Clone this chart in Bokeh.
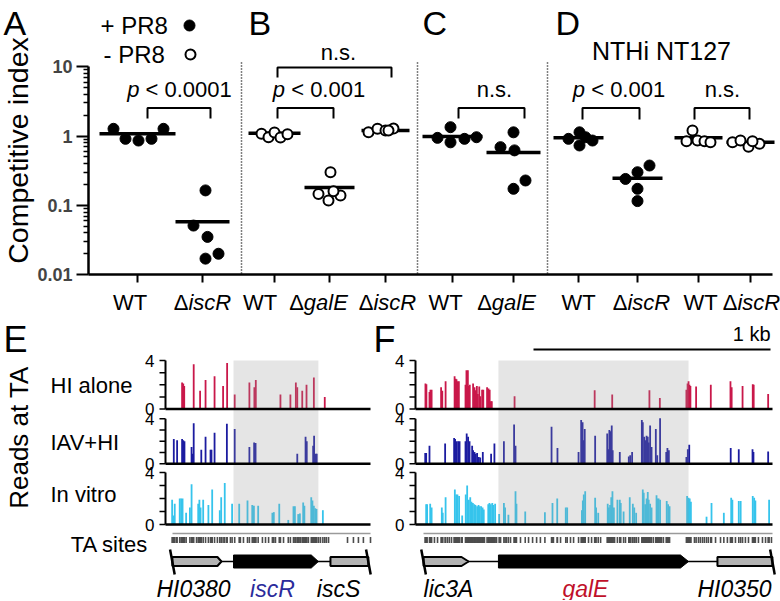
import math
from bokeh.plotting import figure
from bokeh.models import Range1d, FixedTicker, CustomJSTickFormatter
from bokeh.layouts import column, row
from bokeh.embed import file_html
from bokeh.resources import INLINE
from bokeh.core.properties import value

FONT = "Liberation Sans"

# ================= DATA: panels A-D (competitive index) =================
ci_labels = ["WT", "iscR", "WT", "galE", "iscR", "WT", "galE", "WT", "iscR", "WT", "iscR"]
ci_mutant = [False, True, False, True, True, False, True, False, True, False, True]
ci_pr8 = [True, True, False, False, False, True, True, True, True, False, False]
ci_values = [
    [1.27, 0.91, 0.86, 0.91, 1.27],
    [0.164, 0.051, 0.035, 0.017, 0.020],
    [1.08, 0.96, 1.12, 0.95, 1.06],
    [0.30, 0.146, 0.117, 0.138, 0.16],
    [1.13, 1.27, 1.20, 1.28, 1.20],
    [1.34, 0.94, 0.81, 0.91, 0.96],
    [1.13, 0.69, 0.62, 0.173, 0.228],
    [1.13, 0.91, 0.73, 0.86, 0.96],
    [0.375, 0.30, 0.24, 0.173, 0.115],
    [1.20, 0.84, 0.86, 0.84, 0.81],
    [0.81, 0.86, 0.70, 0.77, 0.84],
]
ci_center = [1.08, 0.058, 1.10, 0.18, 1.20, 0.98, 0.58, 0.94, 0.246, 0.94, 0.81]
sig_texts = [("p", "< 0.0001"), ("p", "< 0.001"), ("", "n.s."), ("", "n.s."), ("p", "< 0.001"), ("", "n.s.")]

# ================= DATA: panels E-F (reads at TA sites, log10) =================
track_names = ["HI alone", "IAV+HI", "In vitro"]
# panel E (bp from left end of window)
e_pos = [
    [70, 75, 79, 119, 146, 169, 207, 243, 260, 292, 354, 375, 381, 485, 527, 550, 556, 577, 595, 626, 672],
    [35, 49, 70, 75, 80, 110, 115, 119, 151, 169, 190, 194, 207, 259, 292, 354, 374, 380, 556, 591, 596,
     623, 627, 634, 638],
    [28, 32, 39, 60, 66, 72, 87, 103, 110, 138, 143, 148, 159, 181, 197, 229, 235, 250, 281, 311, 346, 366,
     373, 391, 451, 457, 480, 518, 540, 546, 560, 567, 581, 586, 615, 620, 626, 632, 637, 664],
]
e_reads = [
    [2.2, 2.1, 1.9, 3.7, 1.5, 2.4, 2.7, 1.9, 3.8, 1.2, 2.2, 1.8, 2.4, 1.2, 1.2, 2.2, 1.8, 1.5, 2.0, 2.6, 1.0],
    [2.2, 2.1, 2.2, 2.1, 2.0, 1.5, 0.9, 3.6, 1.25, 2.4, 1.25, 1.25, 2.75, 3.55, 3.1, 1.5, 1.9, 1.85, 0.9,
     2.4, 2.0, 1.6, 2.5, 0.9, 0.9],
    [1.9, 0.7, 1.6, 2.0, 2.0, 2.0, 0.9, 1.3, 3.1, 1.6, 1.9, 1.3, 1.9, 1.5, 2.7, 1.1, 2.1, 3.2, 1.6, 1.6,
     1.85, 1.5, 1.45, 1.45, 0.9, 0.95, 1.6, 0.35, 1.4, 1.4, 0.8, 0.85, 1.7, 1.45, 2.1, 1.85, 1.45, 1.25,
     1.2, 1.1],
]
e_ta_extra = [46, 131, 219, 274, 316, 329, 409, 422, 435, 464, 498, 570, 603, 646, 654, 679, 688, 768,
              793, 814, 835, 865]
e_genes = ["HI0380", "iscR", "iscS"]
e_gene_start = [29, 287, 696]
e_gene_end = [236, 645, 856]
e_gene_label_x = [118, 451, 730]

# panel F
f_pos = [
    [42, 46, 59, 63, 68, 108, 113, 127, 165, 169, 173, 177, 183, 211, 215, 221, 225, 229, 243, 249, 253,
     259, 263, 269, 273, 281, 286, 302, 308, 313, 318, 322, 418, 756, 830, 987, 1031, 1143, 1148, 1152,
     1156, 1160, 1184, 1246, 1329, 1334, 1380, 1423, 1427, 1488],
    [41, 45, 59, 125, 163, 167, 173, 180, 186, 211, 216, 222, 228, 239, 243, 249, 254, 260, 267, 273, 284,
     319, 333, 373, 416, 422, 574, 599, 688, 699, 705, 709, 714, 758, 809, 813, 818, 824, 828, 832, 862,
     900, 906, 914, 955, 959, 965, 970, 975, 980, 984, 990, 996, 1014, 1020, 1032, 1058, 1063, 1069, 1143,
     1149, 1155, 1330, 1364, 1422, 1426, 1488],
    [45, 49, 62, 68, 111, 115, 127, 166, 172, 177, 184, 197, 212, 218, 225, 231, 236, 242, 248, 253, 260,
     266, 271, 277, 283, 288, 307, 312, 318, 324, 329, 336, 353, 373, 378, 392, 422, 426, 463, 546, 578,
     598, 634, 640, 702, 706, 710, 716, 758, 762, 771, 811, 816, 821, 826, 831, 837, 852, 862, 866, 878,
     904, 917, 923, 931, 959, 963, 969, 975, 980, 984, 990, 996, 1017, 1021, 1026, 1032, 1060, 1066, 1072,
     1146, 1152, 1157, 1162, 1228, 1249, 1301, 1332, 1337, 1364, 1372, 1423, 1429, 1434, 1492],
]
f_reads = [
    [2.1, 2.05, 1.4, 1.6, 1.6, 1.8, 1.5, 2.3, 2.7, 2.5, 2.45, 2.3, 2.3, 2.0, 3.2, 3.2, 1.9, 2.0, 2.1, 1.8,
     1.55, 1.9, 1.25, 1.85, 1.05, 1.6, 1.6, 1.8, 1.7, 1.6, 0.65, 0.65, 1.05, 1.55, 1.2, 1.55, 0.9, 1.6,
     2.1, 2.3, 2.0, 1.9, 1.85, 2.0, 2.3, 1.8, 1.9, 2.05, 2.0, 1.25],
    [0.95, 0.95, 1.6, 1.8, 2.3, 2.2, 2.0, 2.0, 2.0, 2.0, 2.7, 2.4, 2.0, 1.6, 1.2, 1.05, 0.9, 0.95, 0.6,
     0.55, 1.05, 0.9, 1.8, 2.0, 3.5, 1.6, 3.3, 1.4, 1.05, 3.9, 3.7, 2.1, 3.1, 2.5, 2.7, 1.3, 3.0, 2.9, 3.4,
     1.2, 1.05, 0.65, 0.75, 1.05, 3.9, 3.7, 2.4, 2.1, 2.5, 2.4, 1.9, 3.4, 1.5, 3.1, 0.75, 4.05, 1.05, 1.4,
     1.2, 0.6, 1.3, 1.7, 1.4, 1.3, 1.3, 1.05, 1.1],
    [1.55, 1.55, 1.6, 1.3, 1.3, 0.9, 2.1, 2.7, 2.3, 2.3, 2.2, 0.7, 2.3, 3.0, 1.9, 2.1, 1.75, 1.65, 1.55,
     1.5, 1.4, 1.5, 1.4, 1.4, 1.3, 1.15, 1.55, 1.65, 1.55, 1.65, 1.5, 1.6, 0.8, 1.65, 1.3, 0.75, 2.55, 1.6,
     1.0, 0.95, 1.65, 2.0, 1.3, 1.3, 1.1, 1.85, 2.3, 2.55, 2.05, 1.3, 0.9, 1.6, 1.3, 1.5, 2.1, 2.55, 1.3,
     1.9, 1.9, 1.65, 1.0, 2.1, 1.6, 1.3, 0.9, 2.7, 2.45, 1.55, 2.0, 2.5, 1.9, 1.6, 1.3, 2.25, 2.0, 2.0,
     1.9, 1.8, 1.55, 1.4, 2.2, 2.05, 2.0, 1.75, 0.6, 1.65, 0.9, 2.05, 1.9, 1.8, 1.8, 2.2, 2.05, 1.85, 1.9],
]
f_ta_extra = [80, 93, 135, 143, 152, 194, 291, 342, 359, 384, 401, 443, 477, 494, 511, 527, 582, 612, 654,
              667, 730, 743, 781, 840, 886, 932, 941, 1004, 1038, 1046, 1177, 1194, 1202, 1211, 1219, 1236,
              1266, 1287, 1316, 1350, 1392, 1405, 1447, 1464, 1477, 1502]
f_genes = ["lic3A", "galE", "HI0350"]
f_gene_start = [34, 350, 1274]
f_gene_end = [224, 1152, 1506]
f_gene_label_x = [139, 717, 1346]

# ================= LAYOUT / STYLE =================
GROUP_X = [137, 202, 274, 329, 385, 452, 513, 578, 637, 698, 750]
LABEL_X = [129.5, 202, 259.5, 318, 387, 445, 506, 578, 641, 700, 751]
POINT_DX = [
    [-24, -12, 1, 14, 26],
    [3, -9, 5, 3, 16],
    [-13, -6, 0, 6, 13],
    [1, -11, -1, 11, 4],
    [-17, -8, 0, 8, 3],
    [-2, -15, -2, 12, 24],
    [0, -13, 1, 0, 12],
    [1, -10, 1, 14, 7],
    [12, 0, -12, 0, 0],
    [-6, -12, -1, 6, 12],
    [-18, -10, -2, 9, 2],
]
LINE_HALF = [38, 27, 26, 25, 24, 30, 27, 25, 25, 24, 24]
SEP_X = [241, 417, 547]
BRACKETS = [(147, 210, 107.5, 118), (277, 333, 107.5, 118), (277, 391, 67, 77),
            (458, 524, 107.5, 118), (582, 639, 107.5, 119), (694, 749, 107.5, 119)]
SIG_POS = [(179, 89), (318.5, 89), (338, 52), (494, 89), (618.5, 89), (722, 89)]

W_EM = {'p': .556, ' ': .278, '<': .584, '0': .556, '.': .278, '1': .556, '\u0394': .668, 'i': .222,
        's': .5, 'c': .5, 'R': .722, 'g': .556, 'a': .556, 'l': .222, 'E': .667, 'n': .556}


def tw(s, size):
    return sum(W_EM.get(ch, .556) for ch in s) * size


PX_PER_DEC = 69.3
Y1_PY = 135.5


def ylog(py):
    return 10 ** ((Y1_PY - py) / PX_PER_DEC)


W = 780
TOP_H = 316
BOT_H = 284


def txt(p, x, y, t, size, align="left", style="normal", color="black", angle=0.0, x_offset=0):
    p.text(x=x, y=y, text=t, text_font=value(FONT), text_font_size=size, text_align=align,
           text_baseline="middle", text_font_style=style, text_color=color, angle=angle,
           x_offset=x_offset)


# ================= TOP FIGURE =================
top = figure(width=W, height=TOP_H, output_backend="svg", toolbar_location=None,
             x_range=Range1d(0, W), y_range=Range1d(ylog(TOP_H), ylog(0)),
             y_axis_type="log", x_axis_location=None,
             min_border_left=0, min_border_right=0, min_border_top=0, min_border_bottom=0)
top.outline_line_color = None
top.grid.visible = False
yax = top.yaxis[0]
yax.fixed_location = 88
yax.ticker = FixedTicker(ticks=[0.01, 0.1, 1, 10],
                         minor_ticks=[m * 10 ** e for e in (-2, -1, 0) for m in range(2, 10)])
yax.bounds = (0.01, 10)
yax.formatter = CustomJSTickFormatter(code="return tick >= 1 ? tick.toFixed(0) : String(Number(tick.toPrecision(1)));")
yax.axis_line_width = 2.5
yax.major_tick_line_width = 2
yax.minor_tick_line_width = 1.5
yax.major_tick_out = 12
yax.major_tick_in = 0
yax.minor_tick_out = 5
yax.minor_tick_in = 0
yax.major_label_text_font = FONT
yax.major_label_text_font_style = "bold"
yax.major_label_text_font_size = "18px"
yax.major_label_standoff = 4

# x axis (drawn at the 0.01 line)
top.segment(x0=[88], y0=[0.01], x1=[772], y1=[0.01], line_width=2.5, line_color="black")
top.segment(x0=GROUP_X, y0=[0.01] * len(GROUP_X), x1=GROUP_X, y1=[ylog(282)] * len(GROUP_X),
            line_width=2, line_color="black")

# x tick labels
wt_x, mut_x, mut_off, mut_lab = [], [], [], []
for lx, lab, mut in zip(LABEL_X, ci_labels, ci_mutant):
    if mut:
        total = tw("\u0394", 22) + tw(lab, 22)
        mut_x.append(lx)
        mut_off.append(-total / 2 + tw("\u0394", 22))
        mut_lab.append(lab)
    else:
        wt_x.append(lx)
LAB_Y = ylog(302)
txt(top, wt_x, [LAB_Y] * len(wt_x), ["WT"] * len(wt_x), "22px", align="center")
txt(top, mut_x, [LAB_Y] * len(mut_x), ["\u0394"] * len(mut_x), "22px", align="right", x_offset=mut_off)
txt(top, mut_x, [LAB_Y] * len(mut_x), mut_lab, "22px", align="left", style="italic", x_offset=mut_off)

# separators
top.segment(x0=SEP_X, y0=[ylog(62)] * 3, x1=SEP_X, y1=[0.01] * 3, line_dash="1 2",
            line_width=1.5, line_color="black")

# center lines
top.segment(x0=[gx - h for gx, h in zip(GROUP_X, LINE_HALF)], y0=ci_center,
            x1=[gx + h for gx, h in zip(GROUP_X, LINE_HALF)], y1=ci_center,
            line_width=3.5, line_color="black")

# points
for gx, dxs, vals, filled in zip(GROUP_X, POINT_DX, ci_values, ci_pr8):
    xs = [gx + d for d in dxs]
    if filled:
        top.scatter(x=xs, y=vals, marker="circle", size=11, fill_color="black", line_color="black")
    else:
        top.scatter(x=xs, y=vals, marker="circle", size=10, fill_color="white", line_color="black",
                    line_width=2)

# brackets and significance
for xl, xr, ty, bt in BRACKETS:
    top.line(x=[xl, xl, xr, xr], y=[ylog(bt), ylog(ty), ylog(ty), ylog(bt)], line_width=2,
             line_color="black")
for (pp, rest), (cx, cy) in zip(sig_texts, SIG_POS):
    if pp:
        total = tw(pp, 22) + tw(" " + rest, 22)
        off = -total / 2 + tw(pp, 22)
        txt(top, [cx], [ylog(cy)], [pp], "22px", align="right", style="italic", x_offset=off)
        txt(top, [cx], [ylog(cy)], [rest], "22px", align="left", x_offset=off + tw(" ", 22))
    else:
        txt(top, [cx], [ylog(cy)], [rest], "22px", align="center")

# legend
txt(top, [100, 103], [ylog(24.6), ylog(53.6)], ["+ PR8", "- PR8"], "24px")
top.scatter(x=[189], y=[ylog(25)], marker="circle", size=11, fill_color="black", line_color="black")
top.scatter(x=[190], y=[ylog(54)], marker="circle", size=10, fill_color="white", line_color="black",
            line_width=2)

# panel letters, title, axis label
txt(top, [3, 248, 422, 555], [ylog(22)] * 4, ["A", "B", "C", "D"], "34px")
txt(top, [661], [ylog(50)], ["NTHi NT127"], "25px", align="center")
txt(top, [17], [ylog(150)], ["Competitive index"], "28.5px", align="center", angle=math.pi / 2)

# ================= BOTTOM FIGURES =================
BP_PER_PX = 1000 / 237
E_ORIG = 165
F_ORIG = 415


def by(py):
    return 524 - py


TRACK_BASE = [by(408.5), by(463.3), by(524)]
TRACK_UNIT = [12.1, 11.25, 13.0]
TRACK_COLORS = ["#c9184a", "#1c1ca0", "#36c4ec"]
GENE_Y = by(561)


def make_panel(width, orig, x_left_px, x_right_px):
    p = figure(width=width, height=BOT_H, output_backend="svg", toolbar_location=None,
               x_range=Range1d((x_left_px - orig) * BP_PER_PX, (x_right_px - orig) * BP_PER_PX),
               y_range=Range1d(by(TOP_H + BOT_H), by(TOP_H)),
               x_axis_location=None, y_axis_location=None,
               min_border_left=0, min_border_right=0, min_border_top=0, min_border_bottom=0)
    p.outline_line_color = None
    p.grid.visible = False
    return p


def draw_panel(p, pos, reads, end_bp, ta_start, ta_extra, genes, gstart, gend, glabel_x,
               target, target_color, heads):
    # bars
    for i in range(3):
        b, u = TRACK_BASE[i], TRACK_UNIT[i]
        p.vbar(x=pos[i], bottom=b, top=[b + v * u for v in reads[i]], width=1.8 * BP_PER_PX,
               fill_color=TRACK_COLORS[i], line_color=None)
    # shaded target gene
    p.quad(left=[gstart[target]], right=[gend[target]], bottom=[TRACK_BASE[2]], top=[by(360)],
           fill_color="#999999", fill_alpha=0.25, line_color=None)
    # track axes
    for i in range(3):
        b, u = TRACK_BASE[i], TRACK_UNIT[i]
        p.segment(x0=[0], y0=[b], x1=[end_bp], y1=[b], line_width=2.5, line_color="black")
        p.segment(x0=[0], y0=[b], x1=[0], y1=[b + 4 * u], line_width=2, line_color="black")
        tk = [b + k * u for k in range(5)]
        p.segment(x0=[0] * 5, y0=tk, x1=[-6 * BP_PER_PX] * 5, y1=tk, line_width=1.5, line_color="black")
        txt(p, [-11 * BP_PER_PX] * 2, [b, b + 4 * u], ["0", "4"], "17px", align="right")
    # TA sites
    ta = sorted(set(pos[0]) | set(pos[1]) | set(pos[2]) | set(ta_extra))
    p.segment(x0=[ta_start], y0=[by(533)], x1=[end_bp], y1=[by(533)], line_width=1.5,
              line_color="#9a9a9a")
    p.vbar(x=ta, bottom=by(542.5), top=by(536.5), width=1.6 * BP_PER_PX, fill_color="#4d4d4d",
           line_color=None)
    # genes
    p.segment(x0=[gstart[0]], y0=[GENE_Y], x1=[gend[-1]], y1=[GENE_Y], line_width=1.5, line_color="black")
    for k in range(3):
        s, e, hd = gstart[k], gend[k], heads[k]
        half = 6.5 if k == target else 4.5
        xs = [s, e - hd, e, e - hd, s]
        ys = [GENE_Y + half, GENE_Y + half, GENE_Y, GENE_Y - half, GENE_Y - half]
        if k == target:
            p.patch(x=xs, y=ys, fill_color="black", line_color="black", line_width=1)
        else:
            p.patch(x=xs, y=ys, fill_color="#b3b3b3", line_color="black", line_width=2)
    cuts = [gstart[0], gend[-1]]
    d = 2.3 * BP_PER_PX
    p.segment(x0=[c - d for c in cuts], y0=[by(549)] * 2, x1=[c + d for c in cuts],
              y1=[by(574)] * 2, line_width=2.5, line_color="black")
    colors = ["black", "black", "black"]
    colors[target] = target_color
    txt(p, glabel_x, [by(588)] * 3, genes, "23px", align="center", style="italic", color=colors)


def ex(px):
    return (px - E_ORIG) * BP_PER_PX


def fx(px):
    return (px - F_ORIG) * BP_PER_PX


SPLIT = 372
pe = make_panel(SPLIT, E_ORIG, 0, SPLIT)
pf = make_panel(W - SPLIT, F_ORIG, SPLIT, W)

draw_panel(pe, e_pos, e_reads, ex(370), ex(172), e_ta_extra, e_genes, e_gene_start, e_gene_end,
           e_gene_label_x, 1, "#2b2b9b", [17, 30, 0])
draw_panel(pf, f_pos, f_reads, fx(772), fx(423), f_ta_extra, f_genes, f_gene_start, f_gene_end,
           f_gene_label_x, 1, "#c0102a", [30, 34, 0])

# labels for panel E
txt(pe, [ex(50)] * 3, [by(385.3), by(442.3), by(494.3)], track_names, "22px")
txt(pe, [ex(148)], [by(544.3)], ["TA sites"], "22px", align="right")
txt(pe, [ex(18)], [by(437)], ["Reads at TA"], "26px", align="center", angle=math.pi / 2)
txt(pe, [ex(3)], [by(339.4)], ["E"], "36px")
txt(pf, [fx(373)], [by(339.4)], ["F"], "36px")
# scale bar 1 kb
pf.segment(x0=[fx(770) - 1000], y0=[by(349)], x1=[fx(770)], y1=[by(349)], line_width=2, line_color="black")
txt(pf, [fx(770)], [by(333)], ["1 kb"], "20px", align="right")

layout = column(top, row(pe, pf, spacing=0), spacing=0)
open("out.html", "w").write(file_html(layout, INLINE))
